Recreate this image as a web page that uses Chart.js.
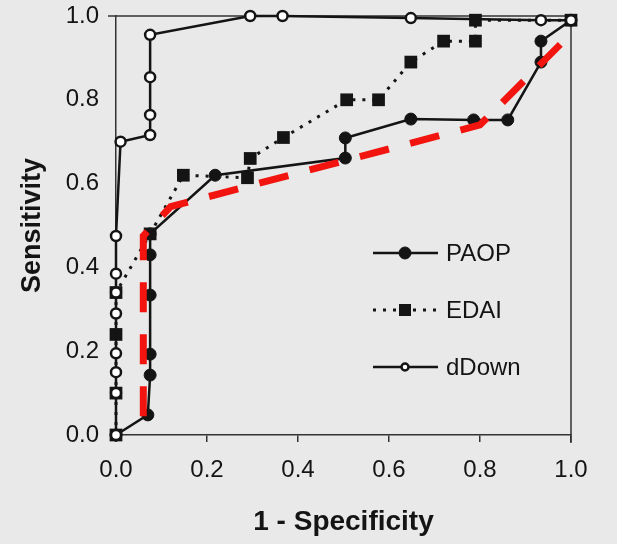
<!DOCTYPE html>
<html>
<head>
<meta charset="utf-8">
<script src="https://cdn.jsdelivr.net/npm/chart.js@4.4.1/dist/chart.umd.min.js"></script>
<style>
html, body { margin: 0; padding: 0; background: #e9e9e9; }
canvas { display: block; }
</style>
</head>
<body>
<canvas id="roc" width="617" height="544"></canvas>
<script>
// tick values for both axes
var tickValues = [0, 0.2, 0.4, 0.6, 0.8, 1.0];

// PAOP
var paopX = [0, 0.07, 0.075, 0.075, 0.075, 0.075, 0.075, 0.218, 0.504, 0.504, 0.648, 0.786, 0.861, 0.934, 0.934, 1.0];
var paopY = [0, 0.048, 0.143, 0.193, 0.334, 0.43, 0.48, 0.62, 0.661, 0.709, 0.754, 0.752, 0.752, 0.89, 0.94, 0.99];

// EDAI
var edaiX = [0, 0, 0, 0, 0.075, 0.148, 0.289, 0.295, 0.368, 0.507, 0.577, 0.648, 0.72, 0.79, 0.79, 1.0];
var edaiY = [0, 0.10, 0.24, 0.34, 0.48, 0.62, 0.614, 0.66, 0.71, 0.80, 0.80, 0.89, 0.94, 0.94, 0.99, 0.99];

// dDown
var ddownX = [0, 0, 0, 0, 0, 0, 0, 0, 0.01, 0.075, 0.075, 0.075, 0.075, 0.295, 0.366, 0.648, 0.934, 1.0];
var ddownY = [0, 0.10, 0.15, 0.195, 0.29, 0.34, 0.385, 0.475, 0.70, 0.716, 0.764, 0.854, 0.955, 1.0, 1.0, 0.995, 0.99, 0.99];

// linea roja dibujada a mano
var rojaX = [0.06, 0.06, 0.12, 0.80, 0.99];
var rojaY = [0.045, 0.475, 0.545, 0.74, 0.947];

function puntos(xs, ys) {
  return xs.map(function (x, i) { return { x: x, y: ys[i] }; });
}

var fuente = 'Liberation Sans, Arial, sans-serif';
var negro = '#141414';

// marco superior y derecho
var marcoPlugin = {
  id: 'marco',
  beforeDatasetsDraw: function (chart) {
    var a = chart.chartArea, ctx = chart.ctx;
    ctx.save();
    ctx.strokeStyle = '#333';
    ctx.lineWidth = 1.5;
    ctx.beginPath();
    ctx.moveTo(a.left - 8, a.top);
    ctx.lineTo(a.right, a.top);
    ctx.lineTo(a.right, a.bottom + 8);
    ctx.stroke();
    ctx.restore();
  }
};

// leyenda dentro del grafico
var leyendaPlugin = {
  id: 'leyenda',
  afterDatasetsDraw: function (chart) {
    var ctx = chart.ctx;
    var filas = [253, 310, 367];
    var n = 0;
    chart.data.datasets.forEach(function (ds) {
      if (!ds.label) return;
      var y = filas[n++];
      ctx.save();
      ctx.strokeStyle = ds.borderColor;
      ctx.lineWidth = ds.borderWidth;
      ctx.setLineDash(ds.borderDash || []);
      ctx.beginPath();
      ctx.moveTo(373, y);
      ctx.lineTo(438, y);
      ctx.stroke();
      ctx.setLineDash([]);
      ctx.fillStyle = ds.pointBackgroundColor;
      ctx.strokeStyle = ds.pointBorderColor;
      ctx.lineWidth = ds.pointBorderWidth;
      if (ds.pointStyle === 'rect') {
        ctx.fillRect(399, y - 6, 12, 12);
      } else {
        var r = ds.label === 'dDown' ? 3.5 : 6;
        ctx.beginPath();
        ctx.arc(405, y, r, 0, Math.PI * 2);
        ctx.fill();
        ctx.stroke();
      }
      ctx.fillStyle = negro;
      ctx.font = '24px ' + fuente;
      ctx.textAlign = 'left';
      ctx.textBaseline = 'middle';
      ctx.fillText(ds.label, 446, y + 1);
      ctx.restore();
    });
  }
};

var ctx = document.getElementById('roc').getContext('2d');

var miGrafico = new Chart(ctx, {
  type: 'scatter',
  data: {
    datasets: [{
      label: 'PAOP',
      data: puntos(paopX, paopY),
      showLine: true,
      borderColor: negro,
      borderWidth: 2.5,
      pointStyle: 'circle',
      pointRadius: 6,
      pointBackgroundColor: negro,
      pointBorderColor: negro,
      pointBorderWidth: 1,
      clip: false,
      order: 3
    }, {
      label: 'EDAI',
      data: puntos(edaiX, edaiY),
      showLine: true,
      borderColor: negro,
      borderWidth: 3,
      borderDash: [3, 7],
      pointStyle: 'rect',
      pointRadius: 9,
      pointBackgroundColor: negro,
      pointBorderColor: negro,
      pointBorderWidth: 0,
      clip: false,
      order: 2
    }, {
      label: 'dDown',
      data: puntos(ddownX, ddownY),
      showLine: true,
      borderColor: negro,
      borderWidth: 2.5,
      pointStyle: 'circle',
      pointRadius: 5,
      pointBackgroundColor: '#ffffff',
      pointBorderColor: negro,
      pointBorderWidth: 2.5,
      clip: false,
      order: 1
    }, {
      label: '',
      data: puntos(rojaX, rojaY),
      showLine: true,
      borderColor: '#f2150f',
      borderWidth: 7,
      borderDash: [30, 22],
      pointRadius: 0,
      clip: false,
      order: 0
    }]
  },
  options: {
    responsive: false,
    animation: false,
    layout: { autoPadding: false, padding: { top: 16, right: 46, left: 0, bottom: 0 } },
    plugins: {
      legend: { display: false },
      tooltip: { enabled: false }
    },
    scales: {
      x: {
        type: 'linear',
        min: 0,
        max: 1,
        afterFit: function (s) { s.height = 109; },
        afterBuildTicks: function (s) { s.ticks = tickValues.map(function (v) { return { value: v }; }); },
        ticks: {
          color: negro,
          font: { family: fuente, size: 24 },
          padding: 14,
          callback: function (v) { return v.toFixed(1); }
        },
        grid: { drawOnChartArea: false, drawTicks: true, tickLength: 7, color: '#333', lineWidth: 1.5 },
        border: { display: true, color: '#333', width: 1.5 },
        title: {
          display: true,
          text: '1 - Specificity',
          color: negro,
          font: { family: fuente, size: 28, weight: 'bold' },
          padding: { top: 0, bottom: 5 }
        }
      },
      y: {
        type: 'linear',
        min: 0,
        max: 1,
        afterFit: function (s) { s.width = 116; s.paddingTop = 0; s.paddingBottom = 0; },
        afterBuildTicks: function (s) { s.ticks = tickValues.map(function (v) { return { value: v }; }); },
        ticks: {
          color: negro,
          font: { family: fuente, size: 24 },
          padding: 17,
          callback: function (v) { return v.toFixed(1); }
        },
        grid: { drawOnChartArea: false, drawTicks: false },
        border: { display: true, color: '#333', width: 1.5 },
        title: {
          display: true,
          text: 'Sensitivity',
          color: negro,
          font: { family: fuente, size: 27, weight: 'bold' },
          padding: { top: 16, bottom: 0 }
        }
      }
    }
  },
  plugins: [marcoPlugin, leyendaPlugin]
});
</script>
</body>
</html>
